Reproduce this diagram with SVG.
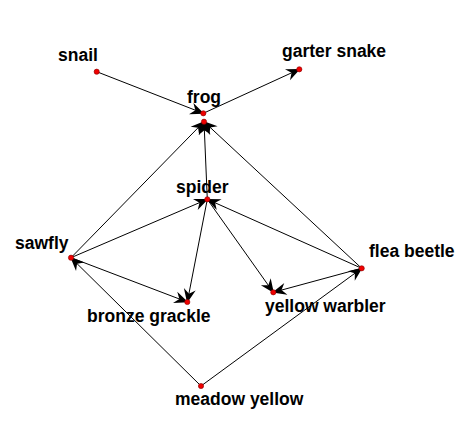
<svg xmlns="http://www.w3.org/2000/svg" width="475" height="424" viewBox="0 0 475 424">
<style>
.e{stroke:#000;stroke-width:1;fill:none;marker-end:url(#ah)}
.d{fill:#f00000;stroke:#800;stroke-width:0.6}
.t{font-family:"Liberation Sans",Arial,sans-serif;font-weight:bold;font-size:17.5px;fill:#000}
</style>
<defs>
<marker id="ah" markerUnits="userSpaceOnUse" markerWidth="18" markerHeight="16" viewBox="-16 -8 18 16" refX="-1" refY="0" orient="auto">
<path d="M0,0 L-14,-6 L-9.5,0 L-14,6 Z" fill="#000"/>
</marker>
</defs>
<rect width="475" height="424" fill="#fff"/>
<g id="connectors">
<line class="e" x1="96.7" y1="71.7" x2="203.3" y2="113.3"/>
<line class="e" x1="203.3" y1="113.3" x2="299.3" y2="69.3"/>
<line class="e" x1="207.3" y1="199.3" x2="204" y2="121.7"/>
<line class="e" x1="71" y1="257.7" x2="204" y2="121.7"/>
<line class="e" x1="361.7" y1="268.3" x2="204" y2="121.7"/>
<line class="e" x1="71" y1="257.7" x2="207.3" y2="199.3"/>
<line class="e" x1="361.7" y1="268.3" x2="207.3" y2="199.3"/>
<line class="e" x1="207.3" y1="199.3" x2="187.3" y2="302"/>
<line class="e" x1="207.3" y1="199.3" x2="273.3" y2="292.3"/>
<line class="e" x1="71" y1="257.7" x2="187.3" y2="302"/>
<line class="e" x1="361.7" y1="268.3" x2="273.3" y2="292.3"/>
<line class="e" x1="201" y1="386" x2="71" y2="257.7"/>
<line class="e" x1="201" y1="386" x2="361.7" y2="268.3"/>
</g>
<g id="snail"><circle class="d" cx="96.7" cy="71.7" r="2.6"/><text class="t" x="58" y="61">snail</text></g>
<g id="frog"><circle class="d" cx="203.3" cy="113.3" r="2.6"/><circle class="d" cx="204" cy="121.7" r="2.6"/><text class="t" x="187" y="103">frog</text></g>
<g id="garter-snake"><circle class="d" cx="299.3" cy="69.3" r="2.6"/><text class="t" x="282" y="57">garter snake</text></g>
<g id="spider"><circle class="d" cx="207.3" cy="199.3" r="2.6"/><text class="t" x="176" y="193">spider</text></g>
<g id="sawfly"><circle class="d" cx="71" cy="257.7" r="2.6"/><text class="t" x="15" y="249">sawfly</text></g>
<g id="bronze-grackle"><circle class="d" cx="187.3" cy="302" r="2.6"/><text class="t" x="87" y="322">bronze grackle</text></g>
<g id="yellow-warbler"><circle class="d" cx="273.3" cy="292.3" r="2.6"/><text class="t" x="265" y="312">yellow warbler</text></g>
<g id="flea-beetle"><circle class="d" cx="361.7" cy="268.3" r="2.6"/><text class="t" x="369" y="257">flea beetle</text></g>
<g id="meadow-yellow"><circle class="d" cx="201" cy="386" r="2.6"/><text class="t" x="175" y="405">meadow yellow</text></g>
</svg>
